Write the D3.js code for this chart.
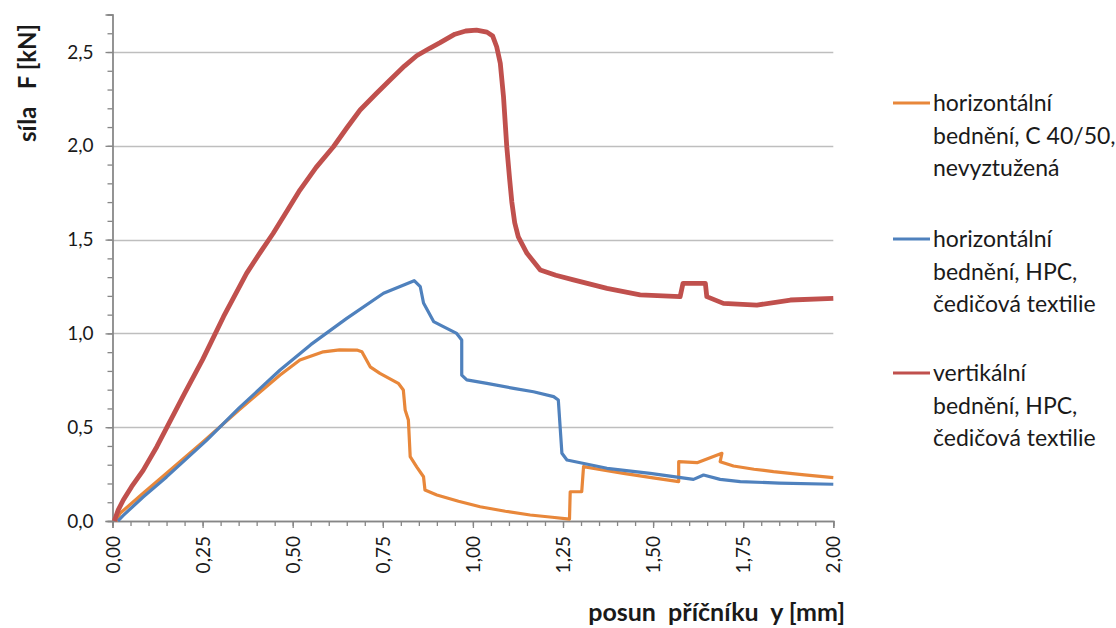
<!DOCTYPE html>
<html>
<head>
<meta charset="utf-8">
<script src="https://cdn.jsdelivr.net/npm/d3@7"></script>
<style>
    body { margin: 0; background: #fff; }
    svg text { font-family: Lato, "Open Sans", sans-serif; fill: #1a1a1a; }
</style>
</head>
<body>
<div id="chart"></div>
<script>
// series: [posun y (mm), síla F (kN)]
var series_names = [
    ["horizontální", "bednění, C 40/50,", "nevyztužená"],
    ["horizontální", "bednění, HPC,", "čedičová textilie"],
    ["vertikální", "bednění, HPC,", "čedičová textilie"]
];
var series_colors = ["#E8873A", "#4F81BD", "#C0504D"];

var orange_values = [
    [0.010, 0.000], [0.021, 0.041], [0.085, 0.148], [0.150, 0.255], [0.250, 0.420],
    [0.350, 0.590], [0.420, 0.705], [0.465, 0.778], [0.520, 0.858], [0.585, 0.902],
    [0.630, 0.912], [0.678, 0.911], [0.692, 0.902], [0.715, 0.822], [0.742, 0.787],
    [0.793, 0.734], [0.807, 0.698], [0.812, 0.592], [0.821, 0.538], [0.826, 0.343],
    [0.844, 0.289], [0.863, 0.236], [0.867, 0.165], [0.900, 0.139], [0.960, 0.105],
    [1.020, 0.076], [1.090, 0.052], [1.159, 0.032], [1.220, 0.020], [1.268, 0.010],
    [1.270, 0.156], [1.302, 0.156], [1.307, 0.290], [1.360, 0.272], [1.418, 0.254],
    [1.500, 0.230], [1.571, 0.210], [1.571, 0.316], [1.622, 0.311], [1.691, 0.361],
    [1.686, 0.316], [1.723, 0.293], [1.780, 0.276], [1.834, 0.263], [1.920, 0.246],
    [2.000, 0.231]
];
var blue_values = [
    [0.015, 0.000], [0.030, 0.030], [0.085, 0.128], [0.150, 0.235], [0.261, 0.430],
    [0.350, 0.600], [0.465, 0.805], [0.550, 0.940], [0.650, 1.080], [0.752, 1.214],
    [0.837, 1.281], [0.854, 1.249], [0.863, 1.162], [0.891, 1.063], [0.918, 1.036],
    [0.955, 1.000], [0.969, 0.965], [0.969, 0.778], [0.983, 0.752], [1.039, 0.734],
    [1.113, 0.707], [1.168, 0.689], [1.224, 0.663], [1.237, 0.645], [1.247, 0.361],
    [1.261, 0.325], [1.372, 0.281], [1.492, 0.254], [1.612, 0.222], [1.640, 0.245],
    [1.686, 0.222], [1.742, 0.210], [1.850, 0.202], [2.000, 0.196]
];
var red_values = [
    [0.005, 0.000], [0.016, 0.059], [0.030, 0.112], [0.053, 0.183], [0.085, 0.270],
    [0.123, 0.396], [0.200, 0.680], [0.250, 0.860], [0.308, 1.089], [0.372, 1.320],
    [0.410, 1.432], [0.446, 1.534], [0.485, 1.655], [0.520, 1.764], [0.565, 1.885],
    [0.613, 1.995], [0.650, 2.095], [0.687, 2.191], [0.730, 2.275], [0.770, 2.351],
    [0.810, 2.425], [0.844, 2.480], [0.880, 2.520], [0.909, 2.550], [0.950, 2.595],
    [0.980, 2.612], [1.010, 2.617], [1.039, 2.606], [1.055, 2.585], [1.066, 2.528],
    [1.076, 2.440], [1.085, 2.260], [1.094, 1.995], [1.102, 1.820], [1.108, 1.700],
    [1.116, 1.590], [1.126, 1.515], [1.150, 1.427], [1.187, 1.338], [1.230, 1.310],
    [1.279, 1.285], [1.372, 1.240], [1.464, 1.205], [1.575, 1.196], [1.583, 1.267],
    [1.645, 1.267], [1.649, 1.196], [1.695, 1.160], [1.788, 1.151], [1.881, 1.178],
    [2.000, 1.187]
];

var x_ticks = [0, 0.25, 0.5, 0.75, 1.0, 1.25, 1.5, 1.75, 2.0];
var y_ticks = [0, 0.5, 1.0, 1.5, 2.0, 2.5];

var width = 1116, height = 628;
var svg = d3.select("#chart").append("svg")
    .attr("width", width)
    .attr("height", height);

var x = d3.scaleLinear().domain([0, 2]).range([112.5, 833.3]);
var y = d3.scaleLinear().domain([0, 2.7]).range([521, 14.5]);

var fmt_x = function(d) { return d3.format(".2f")(d).replace(".", ","); };
var fmt_y = function(d) { return d3.format(".1f")(d).replace(".", ","); };

// horizontal grid lines at the major ticks
svg.append("g")
    .selectAll("line")
    .data(y_ticks.filter(function(d) { return d > 0; }))
    .enter()
    .append("line")
    .attr("x1", x(0))
    .attr("x2", x(2))
    .attr("y1", function(d) { return Math.round(y(d)) + 0.5; })
    .attr("y2", function(d) { return Math.round(y(d)) + 0.5; })
    .style("stroke", "#BEBEBE")
    .style("stroke-width", 1.3);

// minor ticks first, then major ones with labels
var x_minor = d3.axisBottom(x).tickValues(d3.range(0, 41).map(function(i) { return i * 0.05; }))
    .tickSize(5).tickFormat("");
var x_axis = d3.axisBottom(x).tickValues(x_ticks).tickSize(7).tickPadding(6).tickFormat(fmt_x);
var y_minor = d3.axisLeft(y).tickValues(d3.range(0, 28).map(function(i) { return i * 0.1; }))
    .tickSize(5).tickFormat("");
var y_axis = d3.axisLeft(y).tickValues(y_ticks).tickSize(7).tickPadding(12).tickFormat(fmt_y);

var gx = svg.append("g").attr("transform", "translate(0,521)");
gx.call(x_minor);
var gx2 = svg.append("g").attr("transform", "translate(0,521)").call(x_axis);
gx2.selectAll("text")
    .attr("transform", "rotate(-90)")
    .attr("x", -15)
    .attr("y", 0)
    .attr("dy", "0.35em")
    .style("text-anchor", "end")
    .style("font-size", "19px")
    .style("font-family", "Lato, sans-serif");

var gy = svg.append("g").attr("transform", "translate(112.5,0)");
gy.call(y_minor);
var gy2 = svg.append("g").attr("transform", "translate(112.5,0)").call(y_axis);
gy2.selectAll("text")
    .style("font-size", "19px")
    .style("font-family", "Lato, sans-serif");

svg.selectAll(".domain, .tick line")
    .style("stroke", "#868686")
    .style("stroke-width", 1.3);

// the three curves
var line = d3.line()
    .x(function(d) { return x(d[0]); })
    .y(function(d) { return y(d[1]); });

var all_values = [orange_values, blue_values, red_values];
var widths = [3.2, 3.2, 4.8];
svg.append("g")
    .selectAll("path")
    .data(all_values)
    .enter()
    .append("path")
    .attr("d", line)
    .style("fill", "none")
    .style("stroke", function(d, i) { return series_colors[i]; })
    .style("stroke-width", function(d, i) { return widths[i]; })
    .style("stroke-linejoin", "round");

// axis titles
svg.append("text")
    .attr("transform", "translate(36,83) rotate(-90)")
    .style("text-anchor", "middle")
    .style("font-weight", "bold")
    .style("font-size", "24px")
    .style("white-space", "pre")
    .text("síla   F [kN]");

svg.append("text")
    .attr("x", 845)
    .attr("y", 621)
    .style("text-anchor", "end")
    .style("font-weight", "bold")
    .style("font-size", "25px")
    .style("white-space", "pre")
    .text("posun  příčníku  y [mm]");

// legend, one block of three lines per series
var legend_top = [103, 239, 373];
var legend = svg.append("g")
    .selectAll("g")
    .data(series_names)
    .enter()
    .append("g")
    .attr("transform", function(d, i) { return "translate(0," + legend_top[i] + ")"; });

legend.append("line")
    .attr("x1", 893)
    .attr("x2", 930)
    .attr("y1", 0)
    .attr("y2", 0)
    .style("stroke", function(d, i) { return series_colors[i]; })
    .style("stroke-width", 3.2);

legend.selectAll("text")
    .data(function(d) { return d; })
    .enter()
    .append("text")
    .attr("x", 933)
    .attr("y", function(d, i) { return i * 32.5; })
    .attr("dy", "0.35em")
    .style("font-size", "23px")
    .text(function(d) { return d; });
</script>
</body>
</html>
